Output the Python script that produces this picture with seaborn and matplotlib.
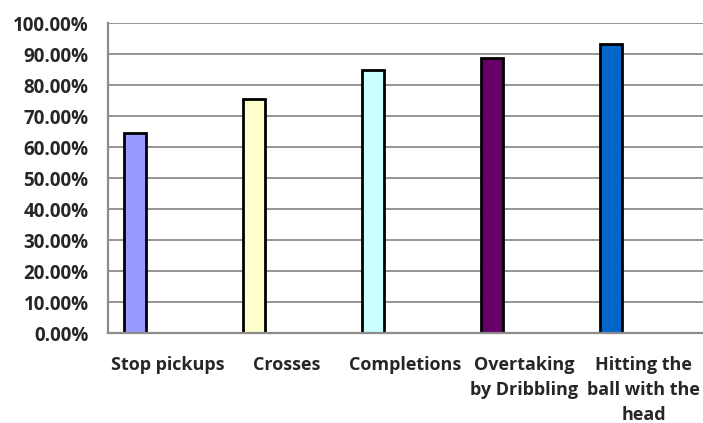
import numpy as np
import matplotlib
matplotlib.use("Agg")
import matplotlib.pyplot as plt
import seaborn as sns
from matplotlib.ticker import FuncFormatter

# Success rate per technical action
categories = ["Stop pickups", "Crosses", "Completions",
              "Overtaking\nby Dribbling", "Hitting the\nball with the\nhead"]
values = [0.647, 0.757, 0.850, 0.887, 0.934]
bar_colors = ["#9999FF", "#FFFFCC", "#CCFFFF", "#660066", "#0066CC"]
y_ticks = np.arange(0, 1.01, 0.1)

sns.set_theme(style="white")
plt.rcParams["font.family"] = ["Open Sans", "DejaVu Sans"]
plt.rcParams["font.weight"] = "bold"

fig = plt.figure(figsize=(7.03, 4.23), dpi=100)
ax = fig.add_axes([108 / 703, 90 / 423, 595 / 703, 309.7 / 423])

sns.barplot(x=categories, y=values, hue=categories, palette=bar_colors,
            width=0.183, edgecolor="black", linewidth=2.0, legend=False,
            saturation=1, ax=ax, zorder=3)

# bars sit at the left of each category slot; labels are centred on the slot
slot_shift = 0.274
ax.set_xlim(-0.5 + slot_shift, len(categories) - 0.5 + slot_shift)
ax.set_xticks(np.arange(len(categories)) + slot_shift)
ax.set_xticklabels(categories, fontsize=13.0, fontweight="bold",
                   linespacing=1.5, va="top")
ax.tick_params(axis="x", length=0, pad=16.5)

ax.set_ylim(0, 1.0)
ax.set_yticks(y_ticks)
ax.yaxis.set_major_formatter(FuncFormatter(lambda v, _: f"{v * 100:.2f}%"))
for lbl in ax.get_yticklabels():
    lbl.set_fontsize(13.5)
    lbl.set_fontweight("bold")
ax.tick_params(axis="y", length=0, pad=14)

ax.yaxis.grid(True, color="#8c8c8c", linewidth=1.3, zorder=1)
ax.set_axisbelow(True)

for side in ("top", "right"):
    ax.spines[side].set_visible(False)
for side in ("left", "bottom"):
    ax.spines[side].set_color("#8c8c8c")
    ax.spines[side].set_linewidth(1.6)
    ax.spines[side].set_zorder(5)

ax.set_xlabel("")
ax.set_ylabel("")

fig.savefig("out.png", dpi=100)
